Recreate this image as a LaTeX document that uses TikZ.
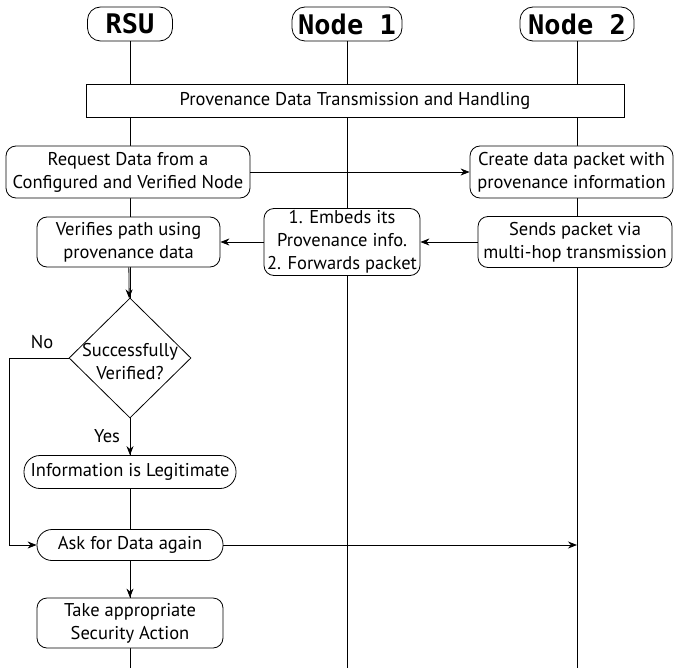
\documentclass[tikz,border=0pt]{standalone}
\usepackage{fontspec}
\setmainfont{PT Sans}
\newfontfamily\headfont{DejaVu Sans Mono}
\usetikzlibrary{arrows.meta,shapes.geometric}

\begin{document}
\begin{tikzpicture}[x=1pt,y=-1pt,>={Stealth[length=9pt,width=7pt]},
  font=\fontsize{18.5}{23}\selectfont,line width=0.8pt,
  actor/.style={draw,rounded corners=13pt,minimum height=34pt,inner sep=0pt,
    font=\headfont\bfseries\fontsize{27}{27}\selectfont},
  stepbox/.style={draw,fill=white,rounded corners=10pt,align=center,inner sep=1pt},
  decision/.style={draw,fill=white,diamond,minimum width=122pt,minimum height=120pt,inner sep=0pt}]
\useasboundingbox (0,0) rectangle (676,671);

% participants and their lifelines
\node[actor,minimum width=85pt] (rsu) at (130,24) {RSU};
\node[actor,minimum width=110pt] (n1) at (347,24) {Node 1};
\node[actor,minimum width=114pt] (n2) at (577,24) {Node 2};
\coordinate (rsu end) at (130,668);
\coordinate (n1 end) at (347,668);
\coordinate (n2 end) at (577,668);
\draw (rsu) -- (rsu end);
\draw (n1) -- (n1 end);
\draw (n2) -- (n2 end);

\node[draw,fill=white,minimum width=538pt,minimum height=33pt] (phase) at (355,100.5)
  {Provenance Data Transmission and Handling};

% message boxes
\node[stepbox,minimum width=244pt,minimum height=52pt] (request) at (128,172)
  {Request Data from a\\Configured and Verified Node};
\node[stepbox,minimum width=203pt,minimum height=52pt] (create) at (571.5,172)
  {Create data packet with\\provenance information};
\node[stepbox,minimum width=183pt,minimum height=50pt] (verify) at (128.5,242)
  {Verifies path using\\provenance data};
\node[stepbox,minimum width=156pt,minimum height=67pt] (embed) at (342,242)
  {1. Embeds its\\Provenance info.\\2. Forwards packet};
\node[stepbox,minimum width=194pt,minimum height=51pt] (send) at (575,242)
  {Sends packet via\\multi-hop transmission};
\node[decision] (check) at (130,358) {};
\node[align=center] (check text) at (130,362) {Successfully\\Verified?};
\node[stepbox,rounded corners=16pt,minimum width=212pt,minimum height=33pt] (legit) at (130,472)
  {Information is Legitimate};
\node[stepbox,rounded corners=15pt,minimum width=186pt,minimum height=31pt] (ask) at (130,545)
  {Ask for Data again};
\node[stepbox,minimum width=186pt,minimum height=50pt] (action) at (130,623)
  {Take appropriate\\Security Action};

\node (yes) at (107,436) {Yes};
\node (no) at (42,342) {No};

% messages
\draw[->] (request) -- (create);
\draw[->] (send) -- (embed);
\draw[->] (embed) -- (verify);
\draw[->] (verify) -- (check);
\draw[->] (check) -- (legit);
\draw[->] (check.west) -- ++(-59,0) |- (ask.west);
\draw[->] (ask.east) -- (ask -| n2);
\draw[->] (ask) -- (action);
\end{tikzpicture}
\end{document}
